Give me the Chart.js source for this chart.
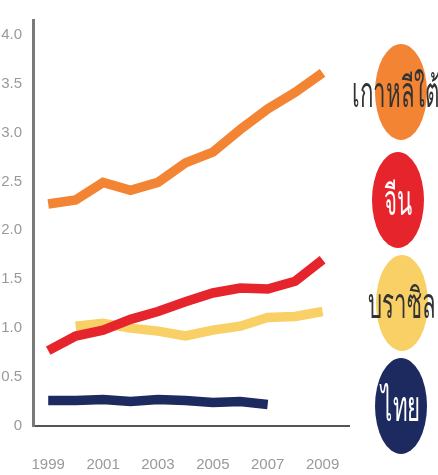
<!DOCTYPE html>
<html>
<head>
<meta charset="utf-8">
<script src="https://cdn.jsdelivr.net/npm/chart.js@4.4.1/dist/chart.umd.min.js"></script>
<style>
  html, body { margin: 0; padding: 0; background: #fff; }
  #wrap { width: 438px; height: 475px; position: relative; }
</style>
</head>
<body>
<div id="wrap"><canvas id="chart"></canvas></div>
<script>
const years = [1999, 2000, 2001, 2002, 2003, 2004, 2005, 2006, 2007, 2008, 2009];
const xTicks = [1999, 2001, 2003, 2005, 2007, 2009];
const yTicks = [0, 0.5, 1.0, 1.5, 2.0, 2.5, 3.0, 3.5, 4.0];

const seriesNames = ["เกาหลีใต้", "จีน", "บราซิล", "ไทย"];
const korea = [2.27, 2.31, 2.49, 2.41, 2.49, 2.69, 2.80, 3.03, 3.24, 3.41, 3.61];
const china = [0.77, 0.92, 0.98, 1.09, 1.17, 1.27, 1.36, 1.41, 1.40, 1.48, 1.70];
const brazil = [null, 1.02, 1.05, 1.00, 0.97, 0.92, 0.98, 1.02, 1.11, 1.12, 1.17];
const thailand = [0.26, 0.26, 0.27, 0.25, 0.27, 0.26, 0.24, 0.25, 0.22, null, null];

const colors = ["#f28433", "#e6242b", "#f9d065", "#1c2a5f"];
const labelColors = ["#333333", "#ffffff", "#333333", "#ffffff"];

function toPoints(vals) {
  return vals.map((v, i) => ({ x: years[i], y: v }));
}

// legend bubbles on the right side
const bubbleLegend = {
  id: "bubbleLegend",
  afterDraw(chart) {
    const ctx = chart.ctx;
    const spots = [[401, 92], [398, 200], [402, 303], [401, 406]];
    ctx.save();
    for (let i = 0; i < seriesNames.length; i++) {
      const [cx, cy] = spots[i];
      ctx.beginPath();
      ctx.ellipse(cx, cy, 26, 48, 0, 0, Math.PI * 2);
      ctx.fillStyle = colors[i];
      ctx.fill();
      ctx.save();
      ctx.translate(i === 0 ? 396 : cx, cy + 3);
      ctx.scale(0.53, 1);
      ctx.font = "300 42px 'Noto Sans', 'DejaVu Sans', sans-serif";
      ctx.fillStyle = labelColors[i];
      ctx.textAlign = "center";
      ctx.textBaseline = "middle";
      ctx.fillText(seriesNames[i], 0, 0);
      ctx.restore();
    }
    ctx.restore();
  }
};

const sets = [korea, china, brazil, thailand].map((vals, i) => ({
  label: seriesNames[i],
  data: toPoints(vals),
  borderColor: colors[i],
  backgroundColor: colors[i],
  borderWidth: 9.5,
  pointRadius: 0,
  tension: 0,
  spanGaps: false
}));

new Chart(document.getElementById("chart"), {
  type: "line",
  data: { datasets: sets },
  options: {
    responsive: true,
    maintainAspectRatio: false,
    animation: false,
    layout: { padding: { top: 5, right: 88, left: 0, bottom: 0 } },
    plugins: { legend: { display: false }, tooltip: { enabled: false } },
    scales: {
      x: {
        type: "linear",
        min: 1998.45,
        max: 2010.0,
        afterBuildTicks: (axis) => { axis.ticks = xTicks.map(v => ({ value: v })); },
        afterFit: (axis) => { axis.height = 49; },
        grid: { display: false, drawTicks: false },
        border: { display: true, color: "#555", width: 2 },
        ticks: {
          padding: 30,
          color: "#999999",
          font: { family: "'Liberation Sans Narrow', 'Liberation Sans', sans-serif", size: 15 },
          callback: (v) => String(v),
          maxRotation: 0
        }
      },
      y: {
        min: 0,
        max: 4.15,
        afterBuildTicks: (axis) => { axis.ticks = yTicks.map(v => ({ value: v })); },
        afterFit: (axis) => { axis.width = 32; },
        grid: { display: false, drawTicks: false },
        border: { display: true, color: "#7a7a7a", width: 3 },
        ticks: {
          padding: 11,
          color: "#999999",
          font: { family: "'Liberation Sans Narrow', 'Liberation Sans', sans-serif", size: 15 },
          callback: (v) => (v === 0 ? "0" : v.toFixed(1))
        }
      }
    }
  },
  plugins: [bubbleLegend]
});
</script>
</body>
</html>
